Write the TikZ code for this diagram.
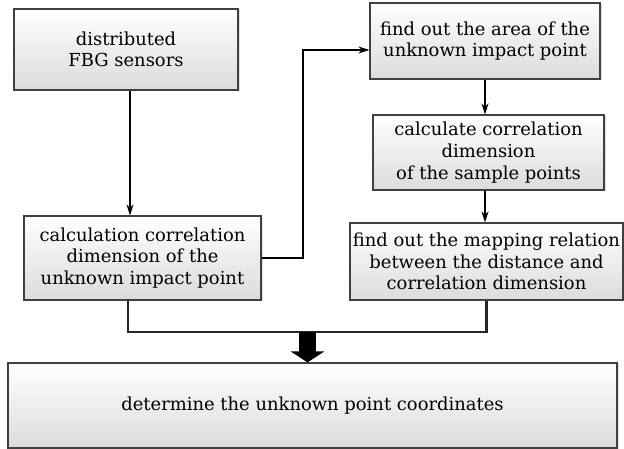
\documentclass[tikz,border=0pt]{standalone}
\usepackage{fontspec}
\setmainfont{DejaVu Serif}
\usetikzlibrary{arrows.meta,shadows}
\tikzset{
  box/.style={draw=black!75,line width=1.1bp,top color=white,bottom color=black!14,
    drop shadow={opacity=0.25,shadow xshift=1.5bp,shadow yshift=-1.5bp},
    align=center,inner sep=0pt,font=\fontsize{18}{21.7}\selectfont},
  link/.style={black,line width=1.2bp,-{Stealth[length=11bp,width=7bp]}},
  merge/.style={black!85,line width=2.2bp},
  fat/.style={black,line width=17bp,-{Triangle[length=11bp,width=33bp]}},
}
\begin{document}
\begin{tikzpicture}[line join=miter]
\useasboundingbox (0bp,0bp) rectangle (624bp,449bp);
%%
\node (node_0) at (126bp,399.5bp) [box,minimum width=224bp,minimum height=81bp] {distributed\\FBG sensors};
  \node (node_1) at (142.5bp,191bp) [box,minimum width=237bp,minimum height=84bp] {calculation correlation\\dimension of the\\unknown impact point};
  \node (node_2) at (485bp,408bp) [box,minimum width=230bp,minimum height=76bp] {find out the area of the\\unknown impact point};
  \node (node_3) at (488.5bp,296.5bp) [box,minimum width=231bp,minimum height=75bp] {calculate correlation\\dimension\\of the sample points};
  \node (node_4) at (486.5bp,187.5bp) [box,minimum width=273bp,minimum height=77bp] {find out the mapping relation\\between the distance and\\correlation dimension};
  \node (node_5) at (312.5bp,43.5bp) [box,minimum width=609bp,minimum height=85bp] {determine the unknown point coordinates};
  \coordinate (bend) at (303bp,399bp);
  \coordinate (join) at (307.5bp,117bp);
  \draw [link] ([xshift=4bp]node_0.south) -- ([xshift=4bp]node_0.south |- node_1.north);
  \draw [link] (node_1.east) -| (bend) -- (bend -| node_2.west);
  \draw [link] (node_2.south) -- (node_2.south |- node_3.north);
  \draw [link] (node_2.south |- node_3.south) -- (node_2.south |- node_4.north);
  \draw [merge] ([xshift=-14.5bp]node_1.south) |- (join) -| (node_4.south);
  \draw [fat] (join) -- (join |- node_5.north);
%
\end{tikzpicture}
\end{document}
